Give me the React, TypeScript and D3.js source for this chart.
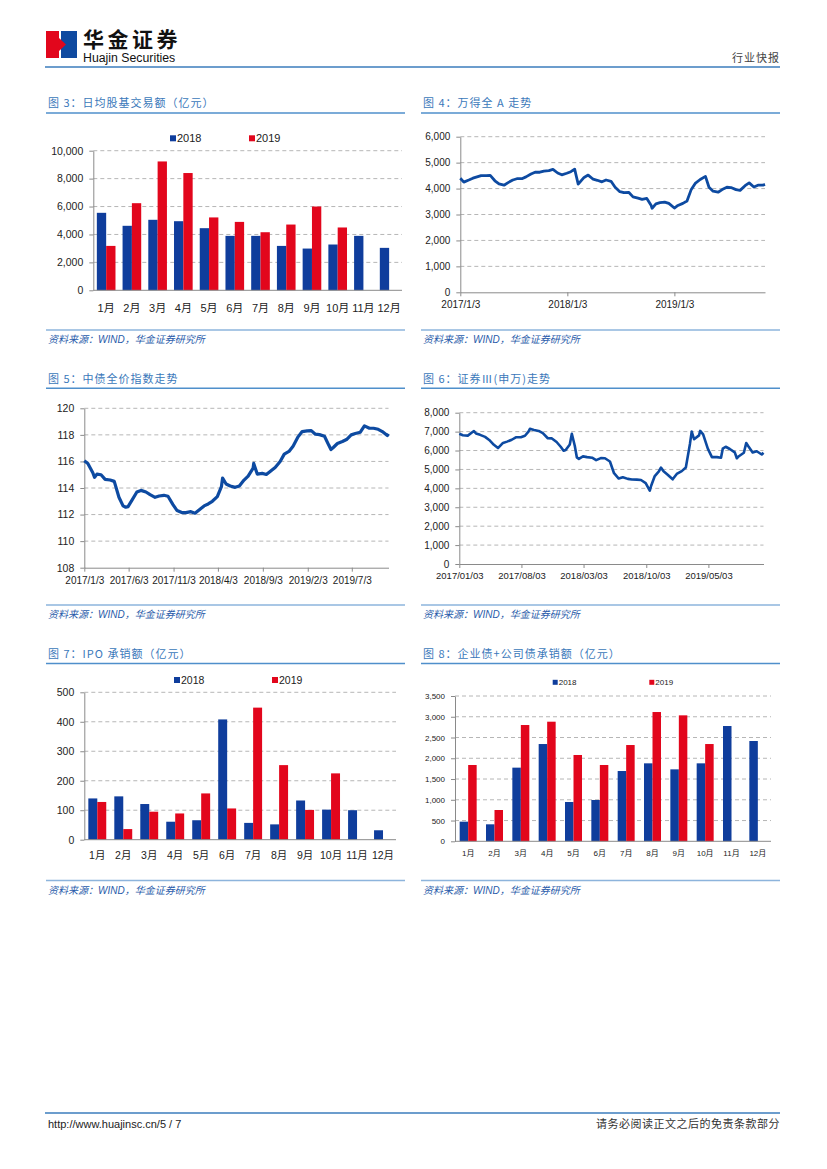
import { useEffect, useRef } from "react";
import * as d3 from "d3";

// shared categories
const months = ["1月", "2月", "3月", "4月", "5月", "6月", "7月", "8月", "9月", "10月", "11月", "12月"];
const years = ["2018", "2019"];

// 图3 日均股基交易额（亿元）
const turnover2018 = [5550, 4620, 5050, 4950, 4450, 3900, 3900, 3180, 2990, 3280, 3900, 3040];
const turnover2019 = [3180, 6240, 9230, 8400, 5220, 4900, 4160, 4710, 6000, 4500];
const turnoverTicks = [0, 2000, 4000, 6000, 8000, 10000];

// 图7 IPO 承销额（亿元）
const ipo2018 = [140, 147, 121, 61, 66, 408, 57, 52, 133, 102, 100, 32];
const ipo2019 = [128, 36, 95, 89, 157, 106, 448, 253, 101, 225];
const ipoTicks = [0, 100, 200, 300, 400, 500];

// 图8 企业债+公司债承销额（亿元）
const bond2018 = [473, 409, 1774, 2343, 947, 995, 1693, 1878, 1733, 1878, 2777, 2416];
const bond2019 = [1838, 754, 2801, 2881, 2079, 1838, 2319, 3114, 3034, 2343];
const bondTicks = [0, 500, 1000, 1500, 2000, 2500, 3000, 3500];

// 图4 万得全A
const windA: [string, number][] = [
  ["2017-01-03", 4400], ["2017-01-15", 4250], ["2017-02-01", 4330], ["2017-02-15", 4400],
  ["2017-03-01", 4450], ["2017-03-15", 4500], ["2017-04-01", 4500], ["2017-04-15", 4510],
  ["2017-05-01", 4300], ["2017-05-15", 4180], ["2017-06-01", 4130], ["2017-06-15", 4230],
  ["2017-07-01", 4330], ["2017-07-15", 4380], ["2017-08-01", 4380], ["2017-08-15", 4450],
  ["2017-09-01", 4560], ["2017-09-15", 4630], ["2017-10-01", 4630], ["2017-10-15", 4670],
  ["2017-11-01", 4690], ["2017-11-15", 4740], ["2017-12-01", 4600], ["2017-12-15", 4530],
  ["2018-01-01", 4590], ["2018-01-15", 4650], ["2018-01-28", 4750], ["2018-02-01", 4550],
  ["2018-02-09", 4170], ["2018-02-15", 4250], ["2018-03-01", 4430], ["2018-03-15", 4520],
  ["2018-04-01", 4360], ["2018-04-15", 4320], ["2018-05-01", 4260], ["2018-05-15", 4330],
  ["2018-06-01", 4280], ["2018-06-15", 4050], ["2018-07-01", 3880], ["2018-07-15", 3840],
  ["2018-08-01", 3850], ["2018-08-15", 3680], ["2018-09-01", 3630], ["2018-09-15", 3580],
  ["2018-10-01", 3620], ["2018-10-15", 3370], ["2018-10-19", 3240], ["2018-11-01", 3410],
  ["2018-11-15", 3460], ["2018-12-01", 3480], ["2018-12-15", 3430], ["2019-01-03", 3250],
  ["2019-01-15", 3350], ["2019-02-01", 3430], ["2019-02-15", 3520], ["2019-03-01", 3950],
  ["2019-03-15", 4200], ["2019-04-01", 4350], ["2019-04-19", 4470], ["2019-05-01", 4050],
  ["2019-05-15", 3900], ["2019-06-01", 3860], ["2019-06-15", 3960], ["2019-07-01", 4050],
  ["2019-07-15", 4040], ["2019-08-01", 3960], ["2019-08-15", 3930], ["2019-09-01", 4110],
  ["2019-09-15", 4220], ["2019-10-01", 4060], ["2019-10-15", 4130], ["2019-11-01", 4130],
  ["2019-11-08", 4160],
];
const windATicks = ["2017-01-03", "2018-01-03", "2019-01-03"];
const windAYTicks = [0, 1000, 2000, 3000, 4000, 5000, 6000];

// 图5 中债全价指数
const bondIndex: [string, number][] = [
  ["2017-01-03", 116.05], ["2017-01-15", 115.85], ["2017-02-01", 115.15], ["2017-02-07", 114.8],
  ["2017-02-15", 115.05], ["2017-03-01", 115.0], ["2017-03-15", 114.65], ["2017-04-01", 114.6],
  ["2017-04-15", 114.5], ["2017-05-01", 113.3], ["2017-05-15", 112.65], ["2017-05-24", 112.55],
  ["2017-06-01", 112.6], ["2017-06-15", 113.1], ["2017-07-01", 113.7], ["2017-07-15", 113.82],
  ["2017-08-01", 113.7], ["2017-08-15", 113.5], ["2017-09-01", 113.3], ["2017-09-15", 113.4],
  ["2017-10-01", 113.45], ["2017-10-15", 113.38], ["2017-11-01", 112.75], ["2017-11-15", 112.3],
  ["2017-12-01", 112.15], ["2017-12-15", 112.15], ["2018-01-01", 112.22], ["2018-01-15", 112.1],
  ["2018-02-01", 112.4], ["2018-02-15", 112.65], ["2018-03-01", 112.8], ["2018-03-15", 113.0],
  ["2018-04-01", 113.35], ["2018-04-15", 114.1], ["2018-04-19", 114.75], ["2018-05-01", 114.3],
  ["2018-05-15", 114.15], ["2018-06-01", 114.05], ["2018-06-15", 114.15], ["2018-07-01", 114.6],
  ["2018-07-15", 114.9], ["2018-08-01", 115.5], ["2018-08-03", 115.85], ["2018-08-15", 115.05],
  ["2018-09-01", 115.1], ["2018-09-15", 115.02], ["2018-10-01", 115.3], ["2018-10-15", 115.55],
  ["2018-11-01", 116.0], ["2018-11-15", 116.55], ["2018-12-01", 116.75], ["2018-12-15", 117.15],
  ["2019-01-01", 117.85], ["2019-01-15", 118.25], ["2019-02-01", 118.3], ["2019-02-15", 118.32],
  ["2019-03-01", 118.05], ["2019-03-15", 118.02], ["2019-04-01", 117.9], ["2019-04-15", 117.25],
  ["2019-04-23", 116.9], ["2019-05-01", 117.05], ["2019-05-15", 117.35], ["2019-06-01", 117.5],
  ["2019-06-15", 117.65], ["2019-07-01", 118.0], ["2019-07-15", 118.1], ["2019-08-01", 118.2],
  ["2019-08-15", 118.68], ["2019-09-01", 118.5], ["2019-09-15", 118.5], ["2019-10-01", 118.42],
  ["2019-10-15", 118.25], ["2019-11-01", 117.95], ["2019-11-05", 118.08],
];
const bondIndexTicks = ["2017-01-03", "2017-06-03", "2017-11-03", "2018-04-03", "2018-09-03", "2019-02-03", "2019-07-03"];
const bondIndexYTicks = [108, 110, 112, 114, 116, 118, 120];

// 图6 证券Ⅲ(申万)
const brokerIndex: [string, number][] = [
  ["2017-01-03", 6890], ["2017-01-15", 6810], ["2017-02-01", 6790], ["2017-02-15", 6950],
  ["2017-02-22", 7030], ["2017-03-01", 6900], ["2017-03-15", 6830], ["2017-04-01", 6720],
  ["2017-04-15", 6560], ["2017-05-01", 6300], ["2017-05-15", 6130], ["2017-06-01", 6400],
  ["2017-06-15", 6470], ["2017-07-01", 6570], ["2017-07-15", 6700], ["2017-08-01", 6700],
  ["2017-08-15", 6780], ["2017-08-27", 7000], ["2017-09-01", 7150], ["2017-09-15", 7090],
  ["2017-10-01", 7035], ["2017-10-15", 6920], ["2017-11-01", 6650], ["2017-11-15", 6640],
  ["2017-12-01", 6450], ["2017-12-15", 6200], ["2017-12-25", 5990], ["2018-01-01", 6030],
  ["2018-01-15", 6320], ["2018-01-22", 6890], ["2018-02-01", 6250], ["2018-02-08", 5640],
  ["2018-02-15", 5560], ["2018-03-01", 5690], ["2018-03-15", 5650], ["2018-04-01", 5620],
  ["2018-04-15", 5490], ["2018-05-01", 5600], ["2018-05-15", 5590], ["2018-06-01", 5420],
  ["2018-06-15", 4800], ["2018-07-01", 4520], ["2018-07-15", 4590], ["2018-08-01", 4500],
  ["2018-08-15", 4465], ["2018-09-01", 4460], ["2018-09-15", 4440], ["2018-10-01", 4280],
  ["2018-10-15", 3880], ["2018-10-20", 4150], ["2018-11-01", 4650], ["2018-11-15", 4900],
  ["2018-11-22", 5100], ["2018-12-01", 4900], ["2018-12-15", 4720], ["2019-01-01", 4480],
  ["2019-01-15", 4760], ["2019-02-01", 4910], ["2019-02-15", 5100], ["2019-03-01", 6350],
  ["2019-03-07", 7000], ["2019-03-15", 6600], ["2019-04-01", 6800], ["2019-04-05", 7035],
  ["2019-04-15", 6850], ["2019-05-01", 6100], ["2019-05-15", 5650], ["2019-06-01", 5650],
  ["2019-06-15", 5620], ["2019-06-21", 6100], ["2019-07-01", 6200], ["2019-07-15", 6080],
  ["2019-08-01", 5900], ["2019-08-08", 5590], ["2019-08-15", 5700], ["2019-09-01", 5880],
  ["2019-09-09", 6400], ["2019-09-15", 6250], ["2019-10-01", 5900], ["2019-10-15", 5960],
  ["2019-11-01", 5790], ["2019-11-07", 5880],
];
const brokerTicks = ["2017-01-03", "2017-08-03", "2018-03-03", "2018-10-03", "2019-05-03"];
const brokerYTicks = [0, 1000, 2000, 3000, 4000, 5000, 6000, 7000, 8000];

const titles = [
  "图 3：日均股基交易额（亿元）",
  "图 4：万得全 A 走势",
  "图 5：中债全价指数走势",
  "图 6：证券Ⅲ(申万)走势",
  "图 7：IPO 承销额（亿元）",
  "图 8：企业债+公司债承销额（亿元）",
];
const source = "资料来源：WIND，华金证券研究所";

const BLUE = "#0f3d9c";
const RED = "#e2061c";
const LINE = "#0d4aa1";
const TITLE = "#3a78ba";
const RULE = "#4f8fcb";
const GRID = "#a3a3a3";
const AXIS = "#8a8a8a";
const FONT = "'Liberation Sans', Arial, 'Noto Sans CJK SC', sans-serif";
const CJK = "'Noto Sans CJK SC', sans-serif";

type Box = { left: number; right: number; top: number; bottom: number };

type BarOpts = Box & {
  a: number[];
  b: number[];
  ticks: number[];
  pad: number;
  yFont: number;
  xFont: number;
  labelDy: number;
  legend: { x: [number, number]; y: number; size: number; font: number };
};

function styleAxis(sel: d3.Selection<SVGGElement, unknown, null, undefined>, font: number) {
  sel.select(".domain").attr("stroke", AXIS).attr("stroke-width", 1);
  sel.selectAll(".tick line").attr("stroke", AXIS);
  sel.selectAll(".tick text").attr("font-family", FONT).attr("font-size", font).attr("fill", "#222");
}

function drawBars(el: SVGGElement, o: BarOpts) {
  const g = d3.select(el);
  g.selectAll("*").remove();

  const x0 = d3.scaleBand<string>().domain(months).range([o.left, o.right]);
  const x1 = d3.scaleBand<string>().domain(years).range([0, x0.bandwidth()]).paddingInner(0).paddingOuter(o.pad);
  const y = d3.scaleLinear().domain([0, d3.max(o.ticks)!]).range([o.bottom, o.top]);

  g.append("g")
    .selectAll("line")
    .data(o.ticks.slice(1))
    .join("line")
    .attr("x1", o.left)
    .attr("x2", o.right)
    .attr("y1", d => y(d))
    .attr("y2", d => y(d))
    .attr("stroke", GRID)
    .attr("stroke-width", 0.8)
    .attr("stroke-dasharray", "4,3");

  const series = [o.a, o.b];
  const colors = [BLUE, RED];
  series.forEach((vals, si) => {
    g.append("g")
      .selectAll("rect")
      .data(vals)
      .join("rect")
      .attr("x", (_, i) => x0(months[i])! + x1(years[si])!)
      .attr("y", d => y(d))
      .attr("width", x1.bandwidth())
      .attr("height", d => y(0) - y(d))
      .attr("fill", colors[si]);
  });

  const ya = g
    .append("g")
    .attr("transform", `translate(${o.left},0)`)
    .call(d3.axisLeft(y).tickValues(o.ticks).tickSize(4).tickSizeOuter(0).tickPadding(6).tickFormat(d3.format(",")));
  styleAxis(ya, o.yFont);

  g.append("line")
    .attr("x1", o.left)
    .attr("x2", o.right)
    .attr("y1", y(0))
    .attr("y2", y(0))
    .attr("stroke", AXIS);

  g.append("g")
    .selectAll("text")
    .data(months)
    .join("text")
    .attr("x", d => x0(d)! + x0.bandwidth() / 2)
    .attr("y", y(0) + o.labelDy)
    .attr("text-anchor", "middle")
    .attr("dominant-baseline", "central")
    .attr("font-family", FONT)
    .attr("font-size", o.xFont)
    .attr("fill", "#222")
    .text(d => d);

  // legend
  years.forEach((yr, i) => {
    g.append("rect")
      .attr("x", o.legend.x[i])
      .attr("y", o.legend.y - o.legend.size / 2)
      .attr("width", o.legend.size)
      .attr("height", o.legend.size)
      .attr("fill", colors[i]);
    g.append("text")
      .attr("x", o.legend.x[i] + o.legend.size + 1)
      .attr("y", o.legend.y)
      .attr("dominant-baseline", "central")
      .attr("font-family", FONT)
      .attr("font-size", o.legend.font)
      .attr("fill", "#222")
      .text(yr);
  });
}

type LineOpts = Box & {
  data: [string, number][];
  xTicks: string[];
  fmt: string;
  yTicks: number[];
  yFont: number;
  xFont: number;
  xPad: number;
  width: number;
  yFormat: (n: number) => string;
};

function drawLine(el: SVGGElement, o: LineOpts) {
  const g = d3.select(el);
  g.selectAll("*").remove();

  const parse = d3.timeParse("%Y-%m-%d");
  const pts = o.data.map(([d, v]) => ({ date: parse(d)!, v }));
  const x = d3
    .scaleTime()
    .domain(d3.extent(pts, d => d.date) as [Date, Date])
    .range([o.left, o.right]);
  const y = d3
    .scaleLinear()
    .domain(d3.extent(o.yTicks) as [number, number])
    .range([o.bottom, o.top]);

  g.append("g")
    .selectAll("line")
    .data(o.yTicks.slice(1))
    .join("line")
    .attr("x1", o.left)
    .attr("x2", o.right)
    .attr("y1", d => y(d))
    .attr("y2", d => y(d))
    .attr("stroke", GRID)
    .attr("stroke-width", 0.8)
    .attr("stroke-dasharray", "4,3");

  const ya = g
    .append("g")
    .attr("transform", `translate(${o.left},0)`)
    .call(d3.axisLeft(y).tickValues(o.yTicks).tickSize(4).tickSizeOuter(0).tickPadding(6).tickFormat(o.yFormat as any));
  styleAxis(ya, o.yFont);

  const xa = g
    .append("g")
    .attr("transform", `translate(0,${o.bottom})`)
    .call(
      d3
        .axisBottom(x)
        .tickValues(o.xTicks.map(t => parse(t)!))
        .tickSize(4)
        .tickSizeOuter(0)
        .tickPadding(o.xPad)
        .tickFormat(d3.timeFormat(o.fmt) as any)
    );
  styleAxis(xa, o.xFont);

  g.append("path")
    .datum(pts)
    .attr("fill", "none")
    .attr("stroke", LINE)
    .attr("stroke-width", o.width)
    .attr("stroke-linejoin", "round")
    .attr(
      "d",
      d3
        .line<{ date: Date; v: number }>()
        .x(d => x(d.date))
        .y(d => y(d.v))
    );
}

const commaFmt = d3.format(",");

export default function App() {
  const c3 = useRef<SVGGElement | null>(null);
  const c4 = useRef<SVGGElement | null>(null);
  const c5 = useRef<SVGGElement | null>(null);
  const c6 = useRef<SVGGElement | null>(null);
  const c7 = useRef<SVGGElement | null>(null);
  const c8 = useRef<SVGGElement | null>(null);

  useEffect(() => {
    drawBars(c3.current!, {
      left: 93.3, right: 402, top: 150.7, bottom: 290.3,
      a: turnover2018, b: turnover2019, ticks: turnoverTicks, pad: 0.38,
      yFont: 10.5, xFont: 11, labelDy: 18,
      legend: { x: [170, 249], y: 138.3, size: 6, font: 11 },
    });
    drawLine(c4.current!, {
      left: 460.3, right: 765, top: 136.7, bottom: 292.3,
      data: windA, xTicks: windATicks, fmt: "%Y/%-m/%-d", yTicks: windAYTicks,
      yFont: 10, xFont: 10, xPad: 5, width: 2.8, yFormat: commaFmt,
    });
    drawLine(c5.current!, {
      left: 84.3, right: 388.5, top: 408.3, bottom: 567.7,
      data: bondIndex, xTicks: bondIndexTicks, fmt: "%Y/%-m/%-d", yTicks: bondIndexYTicks,
      yFont: 10.5, xFont: 10, xPad: 5.5, width: 3.2, yFormat: d3.format("d"),
    });
    drawLine(c6.current!, {
      left: 459.3, right: 763.5, top: 412.7, bottom: 564,
      data: brokerIndex, xTicks: brokerTicks, fmt: "%Y/%m/%d", yTicks: brokerYTicks,
      yFont: 10, xFont: 9.5, xPad: 4, width: 2.6, yFormat: commaFmt,
    });
    drawBars(c7.current!, {
      left: 84.3, right: 396, top: 692.3, bottom: 839.7,
      a: ipo2018, b: ipo2019, ticks: ipoTicks, pad: 0.45,
      yFont: 10.5, xFont: 10.5, labelDy: 15.5,
      legend: { x: [174, 272], y: 680, size: 6, font: 10.5 },
    });
    drawBars(c8.current!, {
      left: 455, right: 771, top: 696, bottom: 841.3,
      a: bond2018, b: bond2019, ticks: bondTicks, pad: 0.55,
      yFont: 8, xFont: 8, labelDy: 12,
      legend: { x: [552.7, 649.3], y: 682.3, size: 5, font: 8 },
    });
  }, []);

  const cols = [45, 420];
  const rows = [
    { title: 107, rule: 113, sep: 330, src: 343 },
    { title: 382.5, rule: 388.3, sep: 605, src: 618 },
    { title: 657.5, rule: 663.5, sep: 880.5, src: 894 },
  ];

  return (
    <svg width={827} height={1169} style={{ position: "absolute", left: 0, top: 0, background: "#fff" }}>
      {/* header */}
      <rect x={46} y={31} width={13} height={27} fill="#e2061c" />
      <rect x={61} y={31} width={16} height={27} fill="#0f4aa0" />
      <polygon points="59,38 66,44.5 59,51" fill="#e2061c" />
      <rect x={59} y={31} width={2} height={7} fill="#fff" />
      <rect x={59} y={51} width={2} height={7} fill="#fff" />
      <text x={83} y={46.5} fontFamily={CJK} fontWeight={700} fontSize={21} fill="#111" letterSpacing={3.5}>
        华金证券
      </text>
      <text x={83} y={61.5} fontFamily={FONT} fontSize={12.3} fill="#111">
        Huajin Securities
      </text>
      <text x={780} y={62} textAnchor="end" fontFamily={CJK} fontSize={11} fill="#444" letterSpacing={1}>
        行业快报
      </text>
      <line x1={45} x2={780} y1={67} y2={67} stroke="#3b7cbd" strokeWidth={1.6} />

      {/* panel frames */}
      {rows.map((r, ri) =>
        cols.map((cx, ci) => (
          <g key={`${ri}-${ci}`}>
            <text x={cx + 3} y={r.title} fontFamily={CJK} fontSize={11} letterSpacing={1} fill={TITLE}>
              {titles[ri * 2 + ci]}
            </text>
            <line x1={cx + 1} x2={cx + 360} y1={r.rule} y2={r.rule} stroke={RULE} strokeWidth={1.4} />
            <line x1={cx + 1} x2={cx + 360} y1={r.sep} y2={r.sep} stroke="#8db4dc" strokeWidth={1.6} />
            <text x={cx + 3} y={r.src} fontFamily={FONT} fontStyle="italic" fontSize={10} fill="#2a5caa">
              {source}
            </text>
          </g>
        ))
      )}

      <g ref={c3} />
      <g ref={c4} />
      <g ref={c5} />
      <g ref={c6} />
      <g ref={c7} />
      <g ref={c8} />

      {/* footer */}
      <line x1={45} x2={780} y1={1113} y2={1113} stroke="#3b7cbd" strokeWidth={1.6} />
      <text x={48} y={1128} fontFamily={FONT} fontSize={11} fill="#222">
        http://www.huajinsc.cn/5 / 7
      </text>
      <text x={780} y={1128} textAnchor="end" fontFamily={CJK} fontSize={11} fill="#333" letterSpacing={0.5}>
        请务必阅读正文之后的免责条款部分
      </text>
    </svg>
  );
}
